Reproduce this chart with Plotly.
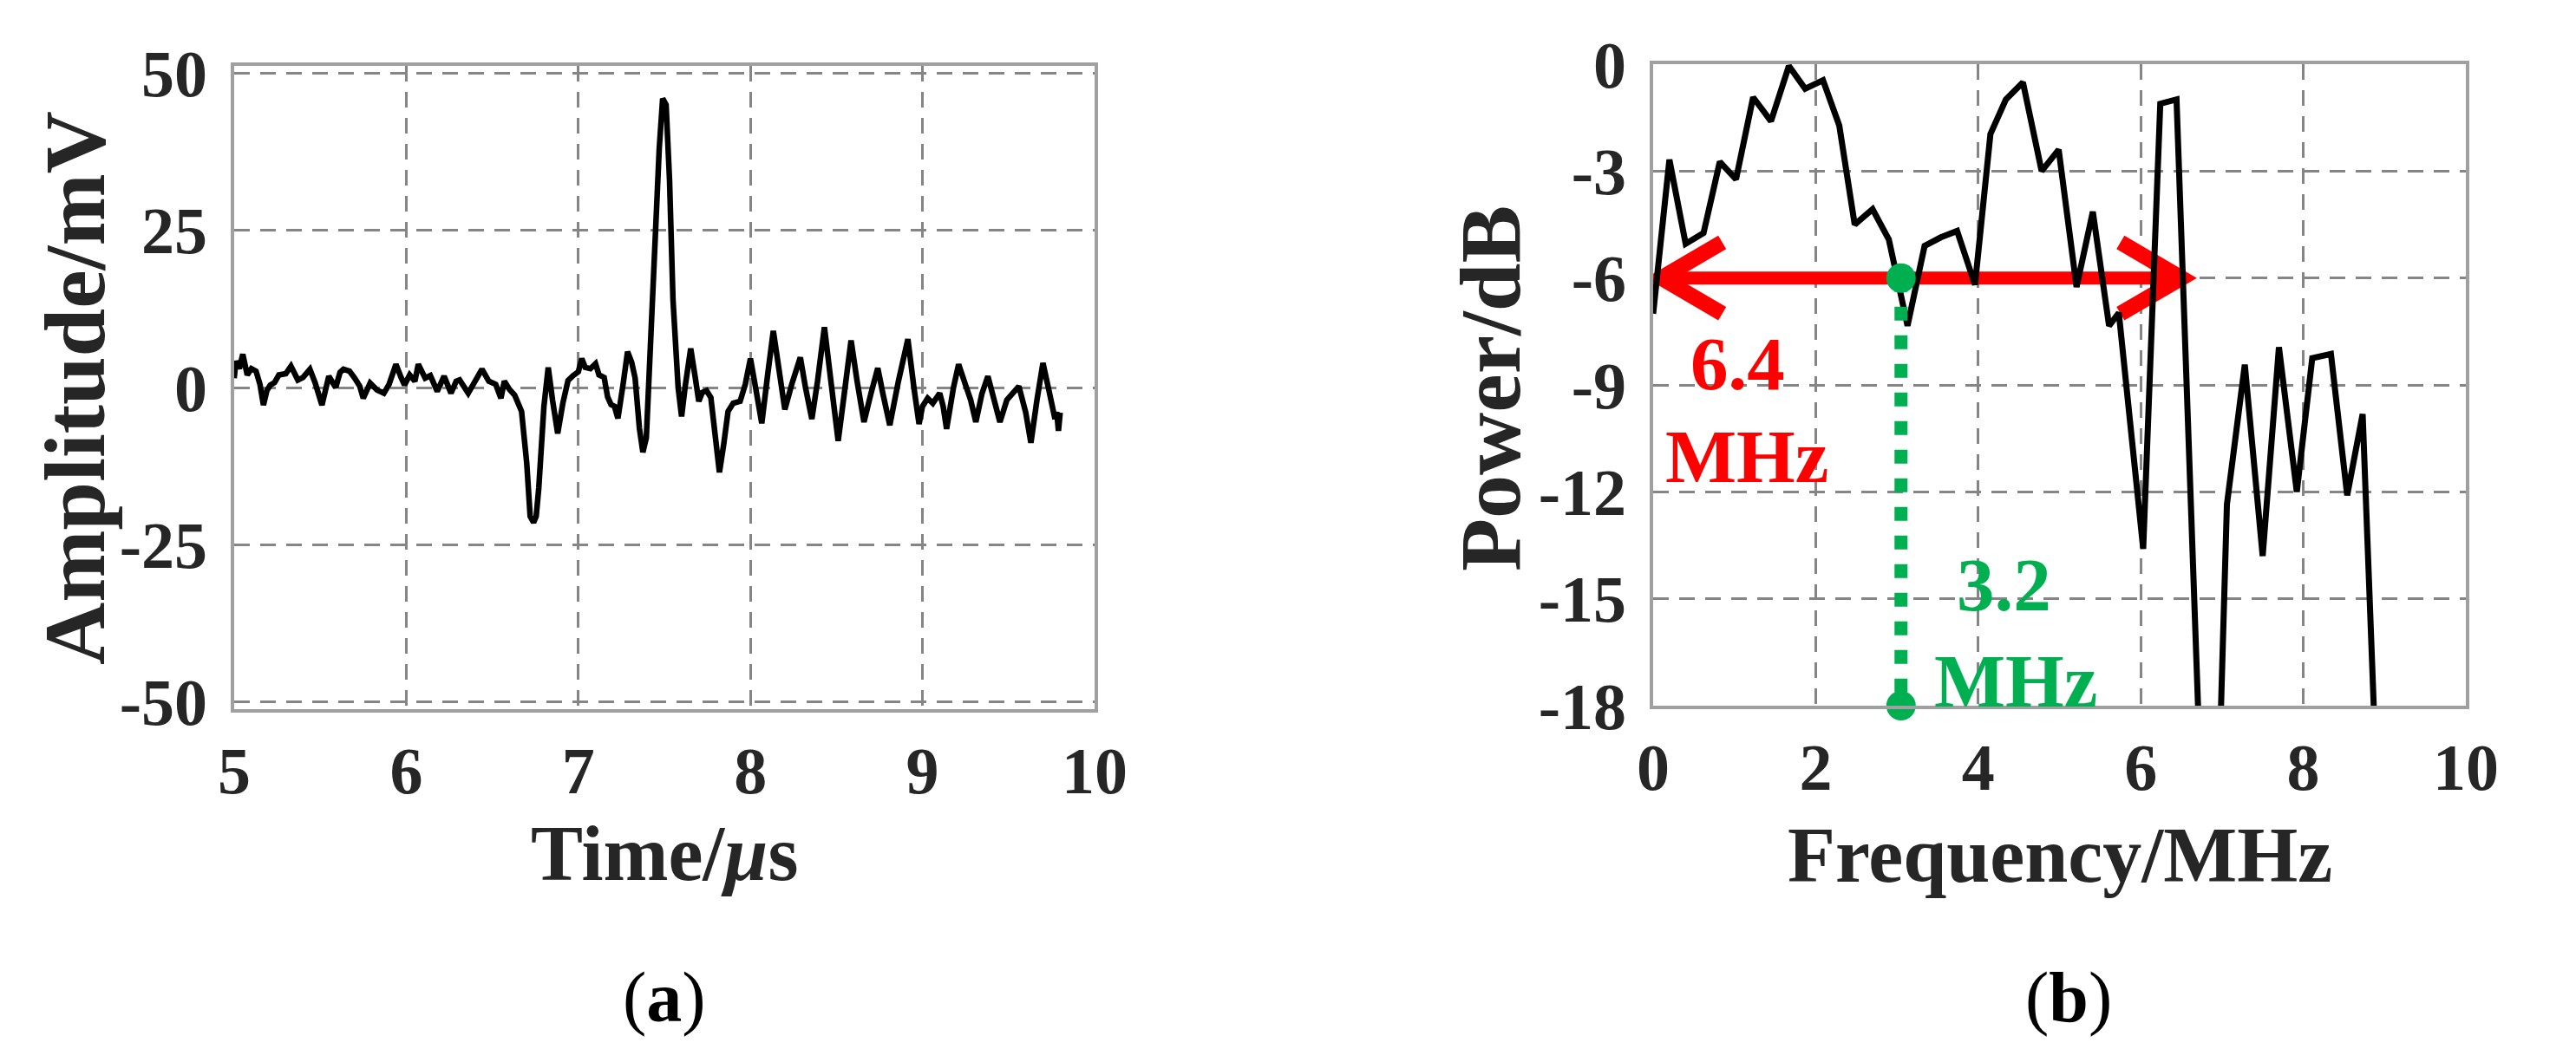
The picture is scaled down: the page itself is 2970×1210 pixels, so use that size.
import plotly.graph_objects as go

# ---------------- data ----------------
# (a) time-domain signal
time_us = [5.00, 5.01, 5.03, 5.05, 5.076, 5.10, 5.127, 5.15, 5.17, 5.19, 5.21, 5.235, 5.26, 5.30,
           5.33, 5.37, 5.40, 5.44, 5.47, 5.51, 5.53, 5.55, 5.59, 5.615, 5.635, 5.67, 5.70, 5.73,
           5.75, 5.79, 5.83, 5.87, 5.90, 5.94, 5.97, 5.99, 6.02, 6.05, 6.07, 6.11, 6.14, 6.18,
           6.22, 6.26, 6.29, 6.31, 6.36, 6.40, 6.44, 6.48, 6.52, 6.55, 6.57, 6.60, 6.63, 6.67,
           6.70, 6.72, 6.74, 6.755, 6.77, 6.80, 6.825, 6.85, 6.88, 6.91, 6.94, 6.97, 7.00, 7.02,
           7.04, 7.07, 7.10, 7.12, 7.15, 7.17, 7.19, 7.21, 7.23, 7.26, 7.286, 7.31, 7.33, 7.355,
           7.375, 7.395, 7.43, 7.47, 7.49, 7.51, 7.53, 7.55, 7.58, 7.60, 7.62, 7.653, 7.68, 7.70,
           7.72, 7.745, 7.77, 7.80, 7.82, 7.845, 7.87, 7.90, 7.94, 7.97, 8.00, 8.03, 8.066, 8.10,
           8.133, 8.16, 8.20, 8.24, 8.29, 8.32, 8.357, 8.39, 8.43, 8.47, 8.51, 8.55, 8.585, 8.62,
           8.66, 8.70, 8.74, 8.77, 8.81, 8.86, 8.915, 8.95, 8.98, 9.00, 9.03, 9.06, 9.10, 9.12,
           9.14, 9.18, 9.21, 9.25, 9.28, 9.31, 9.345, 9.38, 9.41, 9.45, 9.49, 9.52, 9.56, 9.60,
           9.63, 9.665, 9.70, 9.735, 9.77, 9.78, 9.79, 9.80]
amplitude_mv = [1.5, 4.2, 3.0, 5.3, 2.0, 3.0, 2.6, 0.5, -2.8, -0.5, 0.4, 0.8, 2.0, 2.2,
                3.4, 1.2, 1.6, 2.9, 0.8, -2.8, -0.5, 1.8, 0.0, 2.4, 2.9, 2.6, 1.5, 0.2,
                -1.7, 0.7, -0.4, -0.9, 0.5, 3.7, 1.6, 0.4, 2.0, 1.0, 3.7, 1.5, 1.9, -0.6,
                1.8, -0.9, 1.0, 1.2, -0.9, 0.8, 2.9, 1.0, 0.5, -1.7, 1.0, -0.3, -1.2, -3.8,
                -12.0, -20.5, -21.5, -20.5, -16.0, -3.0, 3.2, -2.0, -7.3, -2.5, 1.1, 1.9, 2.5, 4.6,
                3.2, 3.0, 3.8, 2.0, 1.6, -1.5, -2.7, -3.0, -4.9, 0.5, 5.7, 4.0, 1.5, -6.5,
                -10.3, -8.0, 14.0, 38.0, 46.0, 45.0, 33.0, 14.0, 0.0, -4.6, 0.0, 6.2, 1.5, -2.2,
                -0.8, -0.5, -1.6, -8.5, -13.5, -9.0, -3.8, -2.5, -2.2, 0.5, 4.6, 0.0, -5.7, 2.0,
                9.0, 4.0, -3.5, 0.5, 4.8, 0.0, -5.0, 1.0, 9.6, 0.5, -8.5, 0.0, 7.5, 1.0,
                -5.5, -1.0, 3.1, -1.0, -6.0, 1.0, 7.7, 0.0, -5.8, -3.0, -1.7, -2.5, -0.9, -3.0,
                -6.6, 0.0, 3.7, 0.4, -2.0, -5.5, -1.0, 1.8, -1.5, -5.5, -2.0, -1.0, 0.2, -4.0,
                -8.8, -2.0, 3.9, -0.5, -5.0, -3.9, -6.9, -4.0]

# (b) power spectrum
freq_mhz = [0.00, 0.20, 0.40, 0.62, 0.82, 1.02, 1.23, 1.45, 1.67, 1.87, 2.09, 2.29, 2.48, 2.70,
            2.90, 3.13, 3.34, 3.54, 3.74, 3.96, 4.15, 4.34, 4.55, 4.78, 4.99, 5.21, 5.41, 5.61,
            5.73, 6.03, 6.24, 6.44, 6.86, 7.06, 7.28, 7.50, 7.70, 7.92, 8.11, 8.34, 8.54, 8.73, 8.95]
power_db = [-7.0, -2.68, -5.04, -4.74, -2.74, -3.23, -0.93, -1.6, -0.05, -0.69, -0.45, -1.72, -4.5, -4.07,
            -4.92, -7.34, -5.1, -4.86, -4.68, -6.19, -1.96, -0.99, -0.51, -3.0, -2.4, -6.25, -4.14, -7.34,
            -6.98, -13.6, -1.11, -0.99, -28.0, -12.36, -8.43, -13.8, -7.94, -12.0, -8.25, -8.13, -12.1, -9.82, -23.0]

# -6 dB bandwidth marker and centre frequency marker
band_edges_mhz = [0.1, 6.5]
band_level_db = -6
centre_mhz = 3.05
centre_levels_db = [-6, -18]

a_xticks = [5, 6, 7, 8, 9, 10]
a_yticks = [-50, -25, 0, 25, 50]
a_yticktext = ["-50", "-25", "0", "25", "50"]
b_xticks = [0, 2, 4, 6, 8, 10]
b_yticks = [-18, -15, -12, -9, -6, -3, 0]
b_yticktext = ["-18", "-15", "-12", "-9", "-6", "-3", "0"]

# ---------------- style ----------------
W, H = 2970, 1210
FONT = "Liberation Serif"
TXT = "#262626"
RED = "#FF0000"
GREEN = "#00B050"
GRID = "#858585"
FRAME = "#a0a0a0"

def px_x(p):
    return p / W

def px_y(p):
    return 1 - p / H

A_L, A_R, A_T, A_B = 262, 1254, 68, 810
B_L, B_R, B_T, B_B = 1898, 2835, 66, 806

fig = go.Figure()

fig.add_trace(go.Scatter(x=time_us, y=amplitude_mv, mode="lines",
                         line=dict(color="black", width=6.5), xaxis="x", yaxis="y",
                         showlegend=False, hoverinfo="skip"))

# red double-headed arrow (shaft + chevron heads)
head_df, head_dy = 0.75, 1.0
fig.add_trace(go.Scatter(x=band_edges_mhz, y=[band_level_db] * 2, mode="lines",
                         line=dict(color=RED, width=15), xaxis="x2", yaxis="y2",
                         showlegend=False, hoverinfo="skip"))
lo, hi = band_edges_mhz
fig.add_trace(go.Scatter(x=[lo + head_df, lo, lo + head_df],
                         y=[band_level_db + head_dy, band_level_db, band_level_db - head_dy],
                         mode="lines", line=dict(color=RED, width=18), xaxis="x2", yaxis="y2",
                         showlegend=False, hoverinfo="skip"))
fig.add_trace(go.Scatter(x=[hi - head_df, hi, hi - head_df],
                         y=[band_level_db + head_dy, band_level_db, band_level_db - head_dy],
                         mode="lines", line=dict(color=RED, width=18), xaxis="x2", yaxis="y2",
                         showlegend=False, hoverinfo="skip"))

fig.add_trace(go.Scatter(x=freq_mhz, y=power_db, mode="lines",
                         line=dict(color="black", width=7), xaxis="x2", yaxis="y2",
                         showlegend=False, hoverinfo="skip"))

fig.add_trace(go.Scatter(x=[centre_mhz] * 2, y=centre_levels_db, mode="lines",
                         line=dict(color=GREEN, width=15, dash="16px,17px"),
                         xaxis="x2", yaxis="y2", showlegend=False, hoverinfo="skip"))
fig.add_trace(go.Scatter(x=[centre_mhz] * 2, y=centre_levels_db, mode="markers",
                         marker=dict(color=GREEN, size=34), cliponaxis=False,
                         xaxis="x2", yaxis="y2", showlegend=False, hoverinfo="skip"))

tickfont = dict(family=FONT, size=76, color=TXT, weight="bold")
common = dict(showline=True, mirror=True, linecolor=FRAME, linewidth=3.5,
              showgrid=True, gridcolor=GRID, gridwidth=2.5, griddash="18px,12px",
              zeroline=False, ticks="", tickfont=tickfont, fixedrange=True,
              automargin=False)

fig.update_layout(
    width=W, height=H, autosize=False,
    margin=dict(l=0, r=0, t=0, b=0, pad=0, autoexpand=False),
    paper_bgcolor="white", plot_bgcolor="white",
    xaxis=dict(domain=[px_x(A_L), px_x(A_R)], range=[5, 10], tickvals=a_xticks,
               anchor="y", ticklabelstandoff=2, **common),
    yaxis=dict(domain=[px_y(A_B), px_y(A_T)], range=[-51.2, 51.2], tickvals=a_yticks,
               ticktext=a_yticktext, anchor="x", ticklabelstandoff=12, **common),
    xaxis2=dict(domain=[px_x(B_L), px_x(B_R)], range=[0, 10], tickvals=b_xticks,
                anchor="y2", ticklabelstandoff=2, **common),
    yaxis2=dict(domain=[px_y(B_B), px_y(B_T)], range=[-18, 0], tickvals=b_yticks,
                ticktext=b_yticktext, anchor="x2", ticklabelstandoff=12, **common),
)

vtitle_font = dict(family=FONT, size=100, color=TXT, weight="bold")
htitle_font = dict(family=FONT, size=90, color=TXT, weight="bold")
ann = [
    dict(text="Amplitude/mV", x=px_x(78), y=px_y(440), textangle=-90, font=vtitle_font),
    dict(text="Time/<i>μ</i>s", x=px_x(758), y=px_y(976), font=htitle_font),
    dict(text="Power/dB", x=px_x(1710), y=px_y(440), textangle=-90, font=vtitle_font),
    dict(text="Frequency/MHz", x=px_x(2367), y=px_y(978), font=htitle_font),
    dict(text="(<b>a</b>)", x=px_x(758), y=px_y(1142),
         font=dict(family=FONT, size=82, color="black")),
    dict(text="(<b>b</b>)", x=px_x(2377), y=px_y(1142),
         font=dict(family=FONT, size=82, color="black")),
]
for a in ann:
    a.update(xref="paper", yref="paper", showarrow=False, xanchor="center", yanchor="middle")
    fig.add_annotation(**a)

lab_font_r = dict(family=FONT, size=87, color=RED, weight="bold")
lab_font_g = dict(family=FONT, size=87, color=GREEN, weight="bold")
for txt, x, y, f in [("6.4", 1.04, -8.4, lab_font_r), ("MHz", 1.15, -11.0, lab_font_r),
                     ("3.2", 4.32, -14.6, lab_font_g), ("MHz", 4.46, -17.3, lab_font_g)]:
    fig.add_annotation(text=txt, x=x, y=y, xref="x2", yref="y2", showarrow=False,
                       xanchor="center", yanchor="middle", font=f)

fig.write_html("out.html")
